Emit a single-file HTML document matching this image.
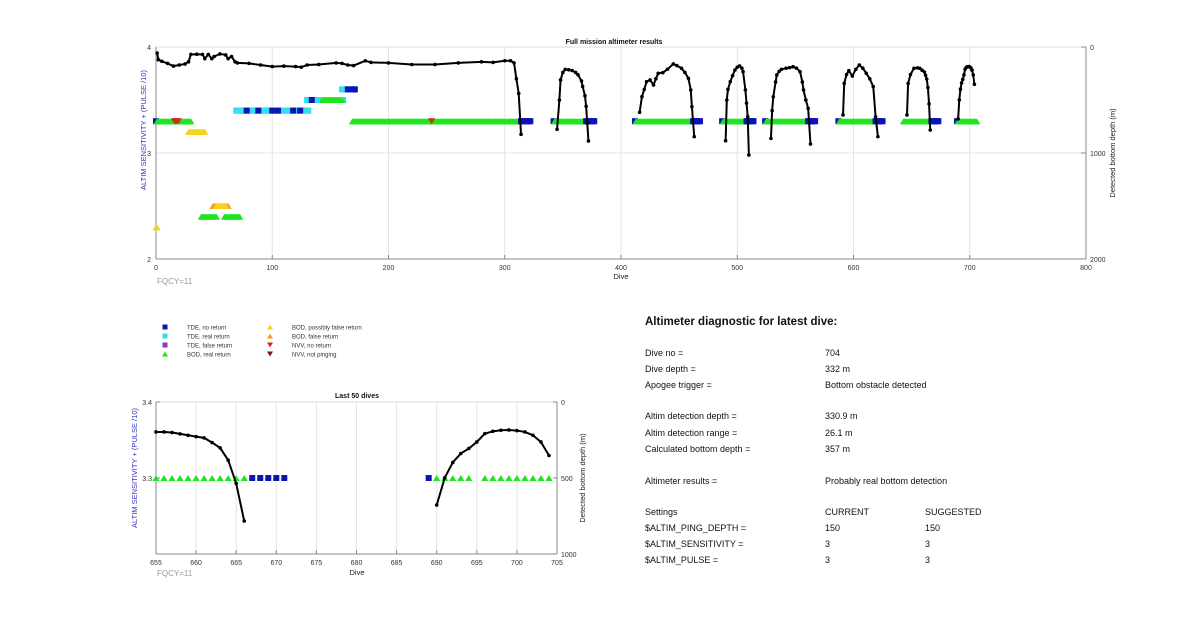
<!DOCTYPE html>
<html><head><meta charset="utf-8"><style>
body{margin:0;background:#fff;width:1200px;height:622px;overflow:hidden}
svg{display:block;font-family:"Liberation Sans",sans-serif}
</style></head><body>
<svg id="s" width="1200" height="622" viewBox="0 0 1200 622" xmlns="http://www.w3.org/2000/svg">
<g id="top"></g>
<g id="bot"></g>
<g id="leg"></g>
<g font-size="9" fill="#111">
<text x="645" y="325" font-size="11.5" font-weight="bold">Altimeter diagnostic for latest dive:</text>
<text x="645" y="356">Dive no =</text><text x="825" y="356">704</text>
<text x="645" y="372">Dive depth =</text><text x="825" y="372">332 m</text>
<text x="645" y="388">Apogee trigger =</text><text x="825" y="388">Bottom obstacle detected</text>
<text x="645" y="419">Altim detection depth =</text><text x="825" y="419">330.9 m</text>
<text x="645" y="436">Altim detection range =</text><text x="825" y="436">26.1 m</text>
<text x="645" y="452">Calculated bottom depth =</text><text x="825" y="452">357 m</text>
<text x="645" y="484">Altimeter results =</text><text x="825" y="484">Probably real bottom detection</text>
<text x="645" y="515">Settings</text><text x="825" y="515">CURRENT</text><text x="925" y="515">SUGGESTED</text>
<text x="645" y="531">$ALTIM_PING_DEPTH =</text><text x="825" y="531">150</text><text x="925" y="531">150</text>
<text x="645" y="547">$ALTIM_SENSITIVITY =</text><text x="825" y="547">3</text><text x="925" y="547">3</text>
<text x="645" y="563">$ALTIM_PULSE =</text><text x="825" y="563">3</text><text x="925" y="563">3</text>
</g>
</svg>
<script>
// ---- Top chart data ----
const topXTicks=[0,100,200,300,400,500,600,700,800];
const topYTicks=[2,3,4];
const topDepthTicks=[0,1000,2000];
const seg1Dives=[1,2,5,10,15,20,25,28,30,35,40,42,45,48,50,55,60,62,65,68,70,80,90,100,110,120,125,130,140,155,160,165,170,180,185,200,220,240,260,280,290,300,305,308,310,312,314];
const seg1Depths=[57,120,135,155,180,170,160,140,70,68,70,110,70,110,90,65,75,110,90,140,150,155,170,185,180,185,190,170,165,150,155,170,175,130,145,150,165,165,150,140,145,130,130,150,300,437,824];
const seg2Dives=[345,347,348,350,352,355,358,361,363,366,367,369,370,371,372];
const seg2Depths=[777,500,311,240,211,215,222,240,262,320,372,460,560,720,887];
const seg3Dives=[416,418,420,422,425,428,430,432,436,440,445,448,452,455,458,460,461,463];
const seg3Depths=[616,469,400,327,311,358,300,248,242,210,160,175,201,240,296,405,563,846];
const seg4Dives=[490,491,492,494,496,498,500,502,504,505,507,508,509,510];
const seg4Depths=[884,500,400,327,270,217,190,179,200,233,405,530,657,1019];
const seg5Dives=[529,530,531,533,534,536,538,542,545,548,551,554,556,557,559,561,563];
const seg5Depths=[862,600,469,330,264,230,211,200,195,186,200,233,330,405,500,579,915];
const seg6Dives=[591,592,594,596,599,602,605,608,611,614,617,619,621];
const seg6Depths=[641,343,260,223,274,210,170,200,248,300,374,657,846];
const seg7Dives=[646,647,649,652,655,657,659,661,662,663,664,665,666];
const seg7Depths=[641,343,260,201,197,201,219,236,267,302,383,536,783];
const seg8Dives=[690,691,692,693,694,695,696,697,698,699,700,701,702,703,704];
const seg8Depths=[678,499,398,339,306,263,208,193,186,184,188,197,219,263,352];
const runStart=[0,1,16,28,0,49,52,39,59,69,78,88,100,105,118,124,130,143,134,160,165,170,169,314,237,342,343,370,412,413,462,487,488,508,524,525,561,587,588,619,643,667,689,690];
const runEnd=[0,30,19,42,1,62,60,52,72,131,78,88,100,105,118,124,161,160,134,171,165,171,313,322,237,342,369,377,412,461,468,487,507,514,524,560,567,587,618,625,666,673,689,706];
const runValue=[3.3,3.3,3.3,3.2,2.3,2.5,2.5,2.4,2.4,3.4,3.4,3.4,3.4,3.4,3.4,3.4,3.5,3.5,3.5,3.6,3.6,3.6,3.3,3.3,3.3,3.3,3.3,3.3,3.3,3.3,3.3,3.3,3.3,3.3,3.3,3.3,3.3,3.3,3.3,3.3,3.3,3.3,3.3,3.3];
const runType=['tdeNo','bodReal','nvvNo','bodPoss','bodPoss','bodFalse','bodPoss','bodReal','bodReal','tdeReal','tdeNo','tdeNo','tdeNo','tdeNo','tdeNo','tdeNo','tdeReal','bodReal','tdeNo','tdeReal','tdeNo','tdeNo','bodReal','tdeNo','nvvNo','tdeNo','bodReal','tdeNo','tdeNo','bodReal','tdeNo','tdeNo','bodReal','tdeNo','tdeNo','bodReal','tdeNo','tdeNo','bodReal','tdeNo','bodReal','tdeNo','tdeNo','bodReal'];
// ---- Bottom chart data ----
const botXTicks=[655,660,665,670,675,680,685,690,695,700,705];
const botYTicks=[3.3,3.4];
const botDepthTicks=[0,500,1000];
const botDives=[655,656,657,658,659,660,661,662,663,664,665,666,667,668,669,670,671,689,690,691,692,693,694,696,697,698,699,700,701,702,703,704];
const botValues=[3.3,3.3,3.3,3.3,3.3,3.3,3.3,3.3,3.3,3.3,3.3,3.3,3.3,3.3,3.3,3.3,3.3,3.3,3.3,3.3,3.3,3.3,3.3,3.3,3.3,3.3,3.3,3.3,3.3,3.3,3.3,3.3];
const botTypes=['bodReal','bodReal','bodReal','bodReal','bodReal','bodReal','bodReal','bodReal','bodReal','bodReal','bodReal','bodReal','tdeNo','tdeNo','tdeNo','tdeNo','tdeNo','tdeNo','bodReal','bodReal','bodReal','bodReal','bodReal','bodReal','bodReal','bodReal','bodReal','bodReal','bodReal','bodReal','bodReal','bodReal'];
const botLineADives=[655,656,657,658,659,660,661,662,663,664,665,666];
const botLineADepths=[197,197,201,210,219,228,236,267,302,383,536,783];
const botLineBDives=[690,691,692,693,694,695,696,697,698,699,700,701,702,703,704];
const botLineBDepths=[678,499,398,339,306,263,208,193,186,184,188,197,219,263,352];

const NS='http://www.w3.org/2000/svg';
function mk(parent,tag,attrs){const e=document.createElementNS(NS,tag);for(const k in attrs)e.setAttribute(k,attrs[k]);parent.appendChild(e);return e;}
function txt(parent,x,y,s,attrs){const e=mk(parent,'text',Object.assign({x:x,y:y},attrs||{}));e.textContent=s;return e;}
const COL={tdeNo:'#0a14b4',tdeReal:'#33e0f0',tdeFalse:'#8a3cc8',bodReal:'#1ee61e',bodPoss:'#f5d21e',bodFalse:'#f0a01e',nvvNo:'#d2281e',nvvNot:'#7a1414'};
function marker(g,type,x,y,sz){
  let e;
  if(type.startsWith('tde')) e=mk(g,'rect',{x:x-sz/2,y:y-sz/2,width:sz,height:sz,fill:COL[type]});
  else if(type.startsWith('bod')) e=mk(g,'polygon',{points:`${x-sz*0.6},${y+sz/2} ${x+sz*0.6},${y+sz/2} ${x},${y-sz/2}`,fill:COL[type]});
  else e=mk(g,'polygon',{points:`${x-sz*0.6},${y-sz/2} ${x+sz*0.6},${y-sz/2} ${x},${y+sz/2}`,fill:COL[type]});
  return e;
}
function axesFrame(g,x0,x1,y0,y1){
  mk(g,'line',{x1:x0,y1:y0,x2:x1,y2:y0,stroke:'#ddd','stroke-width':1});
  mk(g,'line',{x1:x0,y1:y0,x2:x0,y2:y1,stroke:'#888','stroke-width':1});
  mk(g,'line',{x1:x0,y1:y1,x2:x1,y2:y1,stroke:'#888','stroke-width':1});
  mk(g,'line',{x1:x1,y1:y0,x2:x1,y2:y1,stroke:'#888','stroke-width':1});
}
function drawLine(g,xs,ys,xf,yf,name){
  const pts=xs.map((d,i)=>xf(d)+','+yf(ys[i])).join(' ');
  const pl=mk(g,'polyline',{points:pts,fill:'none',stroke:'#000','stroke-width':2});
  
  
  xs.forEach((d,i)=>{const c=mk(g,'circle',{cx:xf(d),cy:yf(ys[i]),r:1.8,fill:'#000'});
    
    });
}
// ---- Top chart ----
(function(){
  const g=document.getElementById('top');
  const X0=156,X1=1086,Y0=47,Y1=259;
  const xT=d=>X0+(d-0)*(X1-X0)/800;
  const yT=v=>Y0+(4-v)*(Y1-Y0)/2;
  const yD=m=>Y0+m*(Y1-Y0)/2000;
  topXTicks.forEach(t=>{if(t>0&&t<800)mk(g,'line',{x1:xT(t),y1:Y0,x2:xT(t),y2:Y1,stroke:'#e4e4e4'});});
  mk(g,'line',{x1:X0,y1:yT(3),x2:X1,y2:yT(3),stroke:'#e4e4e4'});
  axesFrame(g,X0,X1,Y0,Y1);
  topXTicks.forEach(t=>{const e=txt(g,xT(t),270,String(t),{'font-size':7,'text-anchor':'middle',fill:'#333'});
    
    mk(g,'line',{x1:xT(t),y1:Y1,x2:xT(t),y2:Y1-4,stroke:'#888'});});
  topYTicks.forEach(t=>{const e=txt(g,151,yT(t)+3,String(t),{'font-size':7,'text-anchor':'end',fill:'#333'});
    });
  topDepthTicks.forEach(t=>{const e=txt(g,1090,yD(t)+3,String(t),{'font-size':7,fill:'#333'});
    
    mk(g,'line',{x1:X1,y1:yD(t),x2:X1-5,y2:yD(t),stroke:'#888'});});
  const t1=txt(g,614,44,'Full mission altimeter results',{'font-size':7,'font-weight':'bold','text-anchor':'middle',fill:'#111'});
  
  const xl=txt(g,621,279,'Dive',{'font-size':7.5,'text-anchor':'middle',fill:'#222'});
  
  const fq=txt(g,157,284,'FQCY=11',{'font-size':8,fill:'#999'});
  
  const yl=txt(g,0,0,'ALTIM SENSITIVITY + (PULSE /10)',{'font-size':7.5,'text-anchor':'middle',fill:'#3333bb',transform:'translate(146,130) rotate(-90)'});
  
  const yr=txt(g,0,0,'Detected bottom depth (m)',{'font-size':7.5,'text-anchor':'middle',fill:'#222',transform:'translate(1115,153) rotate(-90)'});
  
  runStart.forEach((s,i)=>{for(let d=s;d<=runEnd[i];d++){const m=marker(g,runType[i],xT(d),yT(runValue[i]),6);
    }});
  const segs=[[seg1Dives,seg1Depths],[seg2Dives,seg2Depths],[seg3Dives,seg3Depths],[seg4Dives,seg4Depths],[seg5Dives,seg5Depths],[seg6Dives,seg6Depths],[seg7Dives,seg7Depths],[seg8Dives,seg8Depths]];
  segs.forEach((s,i)=>drawLine(g,s[0],s[1],xT,yD,'depth-line-'+(i+1)));
})();
// ---- Bottom chart ----
(function(){
  const g=document.getElementById('bot');
  const X0=156,X1=557,Y0=402,Y1=554;
  const xB=d=>X0+(d-655)*(X1-X0)/50;
  const yB=v=>Y0+(3.4-v)*(Y1-Y0)/0.2;
  const yD=m=>Y0+m*(Y1-Y0)/1000;
  botXTicks.forEach(t=>{if(t>655&&t<705)mk(g,'line',{x1:xB(t),y1:Y0,x2:xB(t),y2:Y1,stroke:'#e4e4e4'});});
  axesFrame(g,X0,X1,Y0,Y1);
  botXTicks.forEach(t=>{const e=txt(g,xB(t),565,String(t),{'font-size':7,'text-anchor':'middle',fill:'#333'});
    
    mk(g,'line',{x1:xB(t),y1:Y1,x2:xB(t),y2:Y1-4,stroke:'#888'});});
  botYTicks.forEach(t=>{const e=txt(g,152,yB(t)+3,t.toFixed(1),{'font-size':7,'text-anchor':'end',fill:'#333'});
    
    mk(g,'line',{x1:X0,y1:yB(t),x2:X0+4,y2:yB(t),stroke:'#888'});});
  botDepthTicks.forEach(t=>{const e=txt(g,561,yD(t)+3,String(t),{'font-size':7,fill:'#333'});
    
    mk(g,'line',{x1:X1,y1:yD(t),x2:X1-4,y2:yD(t),stroke:'#888'});});
  const t1=txt(g,357,398,'Last 50 dives',{'font-size':7,'font-weight':'bold','text-anchor':'middle',fill:'#111'});
  
  const xl=txt(g,357,575,'Dive',{'font-size':7.5,'text-anchor':'middle',fill:'#222'});
  
  const fq=txt(g,157,576,'FQCY=11',{'font-size':8,fill:'#999'});
  
  const yl=txt(g,0,0,'ALTIM SENSITIVITY + (PULSE /10)',{'font-size':7.5,'text-anchor':'middle',fill:'#3333bb',transform:'translate(137,468) rotate(-90)'});
  
  const yr=txt(g,0,0,'Detected bottom depth (m)',{'font-size':7.5,'text-anchor':'middle',fill:'#222',transform:'translate(585,478) rotate(-90)'});
  
  botDives.forEach((d,i)=>{const m=marker(g,botTypes[i],xB(d),yB(botValues[i]),6);
    });
  drawLine(g,botLineADives,botLineADepths,xB,yD,'depth-line-a');
  drawLine(g,botLineBDives,botLineBDepths,xB,yD,'depth-line-b');
})();
// ---- Legend ----
(function(){
  const g=document.getElementById('leg');
  const items=[['tdeNo','TDE, no return',165,327],['tdeReal','TDE, real return',165,336],['tdeFalse','TDE, false return',165,345],['bodReal','BOD, real return',165,354],
    ['bodPoss','BOD, possibly false return',270,327],['bodFalse','BOD, false return',270,336],['nvvNo','NVV, no return',270,345],['nvvNot','NVV, not pinging',270,354]];
  items.forEach(it=>{const m=marker(g,it[0],it[2],it[3],5);
    
    const t=txt(g,it[2]+22,it[3]+2.5,it[1],{'font-size':6,fill:'#333'});
    });
})();
</script>
</body></html>
